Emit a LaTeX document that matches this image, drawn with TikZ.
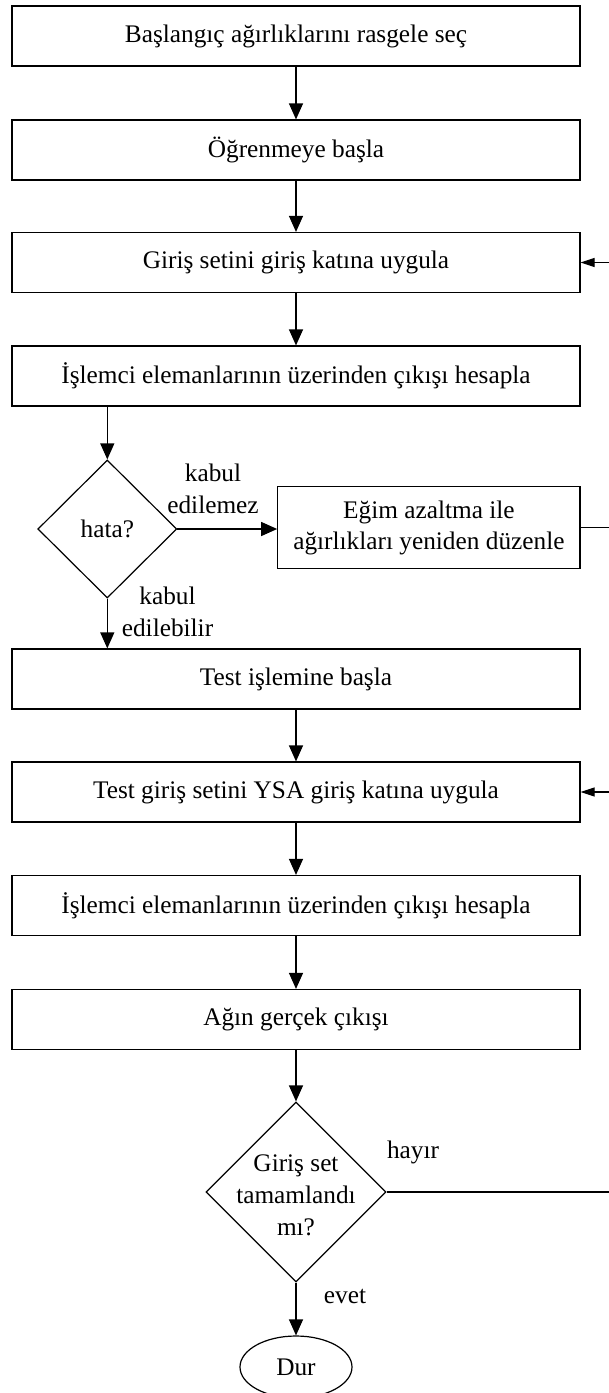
\documentclass[tikz,border=0pt]{standalone}
\usepackage{fontspec}
\setmainfont{Liberation Serif}
\usetikzlibrary{arrows.meta,shapes.geometric}
\begin{document}
\begin{tikzpicture}[x=1pt,y=-1pt,
  every node/.style={font=\fontsize{25.3pt}{31pt}\selectfont, inner sep=0pt, text=black},
  wire/.style={draw=black, line width=1.2pt},
  arr/.style={wire, -{Triangle[length=16pt,width=14pt]}},
  backarr/.style={wire, -{Triangle[length=14pt,width=9pt]}},
  stepbox/.style={draw, line width=1.2pt, minimum width=568pt, minimum height=60pt, align=center},
  decision/.style={draw, line width=1.2pt, shape=diamond, align=center},
  terminal/.style={draw, line width=1.2pt, shape=ellipse, minimum width=112pt, minimum height=62pt},
  note/.style={align=center, font=\fontsize{25.3pt}{31.5pt}\selectfont}
]
\useasboundingbox (0,0) rectangle (609,1393);
\fill[white] (0,0) rectangle (609,1393);

% training part
\node[stepbox] (b1) at (296,36) {Başlangıç ağırlıklarını rasgele seç};
\node[stepbox] (b2) at (296,150) {Öğrenmeye başla};
\node[stepbox] (b3) at (296,262.5) {Giriş setini giriş katına uygula};
\node[stepbox] (b4) at (296,376) {İşlemci elemanlarının üzerinden çıkışı hesapla};
\node[decision, minimum width=139pt, minimum height=138pt] (d1) at (107.3,529) {hata?};
\node[stepbox, minimum width=302.3pt, minimum height=81.6pt] (eg) at (428.9,527.5)
  {Eğim azaltma ile\\ağırlıkları yeniden düzenle};

% test part
\node[stepbox] (b5) at (296,679) {Test işlemine başla};
\node[stepbox] (b6) at (296,792) {Test giriş setini YSA giriş katına uygula};
\node[stepbox] (b7) at (296,905.5) {İşlemci elemanlarının üzerinden çıkışı hesapla};
\node[stepbox] (b8) at (296,1019.5) {Ağın gerçek çıkışı};
\node[decision, minimum width=180pt, minimum height=180pt] (d2) at (296,1192) {};
\node[align=center, font=\fontsize{25.3pt}{32pt}\selectfont] (d2t) at (296,1195) {Giriş set\\tamamlandı\\mı?};
\node[terminal] (dur) at (296,1367) {Dur};

% branch labels
\node[note] (l1) at (213,489) {kabul\\edilemez};
\node[note] (l2) at (167.5,612) {kabul\\edilebilir};
\node (l3) at (413,1152) {hayır};
\node (l4) at (345,1296) {evet};

% main flow
\draw[arr] (b1.south) -- (b2.north);
\draw[arr] (b2.south) -- (b3.north);
\draw[arr] (b3.south) -- (b4.north);
\draw[arr] (d1.north |- b4.south) -- (d1.north);
\draw[arr] (d1.east) -- (d1.east -| eg.west);
\draw[arr] (d1.south) -- (d1.south |- b5.north);
\draw[arr] (b5.south) -- (b6.north);
\draw[arr] (b6.south) -- (b7.north);
\draw[arr] (b7.south) -- (b8.north);
\draw[arr] (b8.south) -- (d2.north);
\draw[arr] (d2.south) -- (dur.north);

% feedback loops along the right margin
\begin{scope}
  \clip (0,0) rectangle (609,1393);
  \draw[backarr] (eg.east) -- ++(45,0) |- (b3.east);
  \draw[backarr] (d2.east) -- ++(250,0) |- (b6.east);
\end{scope}
\end{tikzpicture}
\end{document}
